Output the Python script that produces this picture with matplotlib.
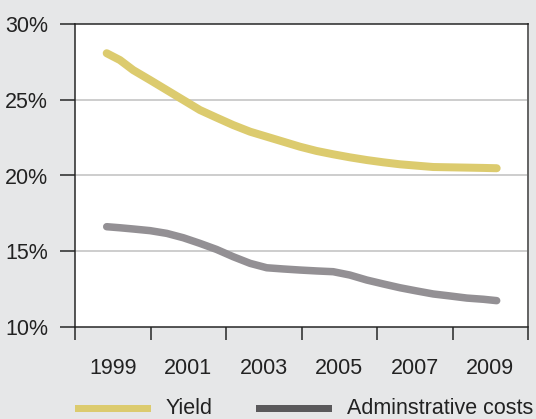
import matplotlib
matplotlib.use("Agg")
import matplotlib.pyplot as plt
from matplotlib.patches import Rectangle
from matplotlib.ticker import FixedLocator, NullFormatter, FixedFormatter

plt.rcParams['font.family'] = ['Liberation Sans', 'DejaVu Sans']

# Data (time position in years, value in %)
period = [1998.84, 1999.19, 1999.54, 1999.99, 2000.43, 2000.87, 2001.31, 2001.75,
          2002.19, 2002.64, 2003.08, 2003.52, 2003.96, 2004.40, 2004.84, 2005.28,
          2005.73, 2006.17, 2006.61, 2007.05, 2007.49, 2007.93, 2008.38, 2008.82, 2009.17]
yield_v = [28.07, 27.62, 26.96, 26.30, 25.64, 24.98, 24.32, 23.82,
           23.33, 22.89, 22.56, 22.23, 21.90, 21.62, 21.40, 21.20,
           21.02, 20.87, 20.74, 20.65, 20.56, 20.54, 20.52, 20.50, 20.48]
admin_v = [16.62, 16.55, 16.47, 16.36, 16.18, 15.89, 15.52, 15.12,
           14.64, 14.20, 13.91, 13.83, 13.76, 13.70, 13.65, 13.43,
           13.10, 12.84, 12.59, 12.38, 12.18, 12.05, 11.91, 11.83, 11.74]
year_labels = ['1999', '2001', '2003', '2005', '2007', '2009']
year_pos = [1999, 2001, 2003, 2005, 2007, 2009]
boundaries = [1998, 2000, 2002, 2004, 2006, 2008, 2010]
y_ticks = [10, 15, 20, 25, 30]
series_names = ['Yield', 'Adminstrative costs']

W, H = 536, 419
BG = '#E6E7E8'
YC = '#DCCB6E'
AC = '#939094'
AC_LEG = '#5A595B'
TXT = '#222222'
FS = 15.5

fig = plt.figure(figsize=(W / 100, H / 100), dpi=100, facecolor=BG)
ax = fig.add_axes([75 / W, 1 - 327 / H, (528 - 75) / W, (327 - 24) / H])
ax.set_facecolor('white')

px = 72 / 100  # points per pixel

ax.plot(period, yield_v, color=YC, lw=8 * px, solid_capstyle='round', solid_joinstyle='round', zorder=3)
ax.plot(period, admin_v, color=AC, lw=7.5 * px, solid_capstyle='round', solid_joinstyle='round', zorder=3)

ax.set_xlim(boundaries[0], boundaries[-1])
ax.set_ylim(y_ticks[0], y_ticks[-1])

for v in y_ticks[1:-1]:
    ax.axhline(v, color='#BEBEBE', lw=1.5 * px, zorder=1)

ax.xaxis.set_major_locator(FixedLocator(boundaries))
ax.xaxis.set_major_formatter(NullFormatter())
ax.xaxis.set_minor_locator(FixedLocator(year_pos))
ax.xaxis.set_minor_formatter(FixedFormatter(year_labels))
ax.tick_params(axis='x', which='major', length=13 * px, width=1.5 * px, color=TXT, direction='out')
ax.tick_params(axis='x', which='minor', length=0, pad=31 * px, labelsize=FS, labelcolor=TXT)

ax.set_yticks(y_ticks)
ax.set_yticklabels([f'{v}%' for v in y_ticks])
ax.tick_params(axis='y', length=15 * px, width=1.5 * px, color=TXT, pad=12 * px,
               labelsize=FS, labelcolor=TXT)

for side in ['left', 'bottom', 'top']:
    ax.spines[side].set_color(TXT)
    ax.spines[side].set_linewidth(1.5 * px)
ax.spines['right'].set_color('#666666')
ax.spines['right'].set_linewidth(2 * px)

# legend drawn in figure pixel space
def fx(x):
    return x / W

def fy(y):
    return 1 - y / H

fig.add_artist(Rectangle((fx(75), fy(412)), (151 - 75) / W, 7 / H, transform=fig.transFigure,
                         facecolor=YC, edgecolor='none'))
fig.text(fx(166), fy(408.5), series_names[0], fontsize=FS, color=TXT, va='center', ha='left')
fig.add_artist(Rectangle((fx(256), fy(412)), (332 - 256) / W, 7 / H, transform=fig.transFigure,
                         facecolor=AC_LEG, edgecolor='none'))
fig.text(fx(347), fy(408.5), series_names[1], fontsize=FS, color=TXT, va='center', ha='left')

fig.savefig('out.png', dpi=100, facecolor=BG)
